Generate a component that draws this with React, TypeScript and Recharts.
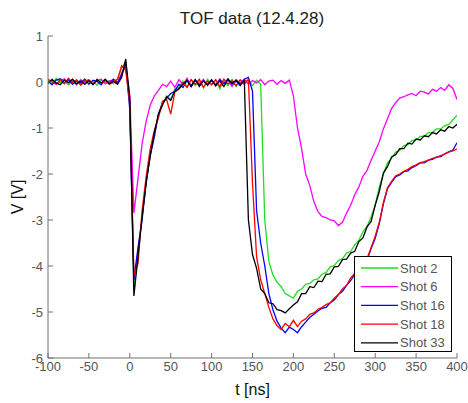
import { LineChart, Line, XAxis, YAxis, Legend } from "recharts";

const TIME = [
  -100, -95, -90, -85, -80, -75, -70, -65, -60, -55,
  -50, -45, -40, -35, -30, -25, -20, -15, -10, -5,
  0, 5, 10, 15, 20, 25, 30, 35, 40, 45,
  50, 55, 60, 65, 70, 75, 80, 85, 90, 95,
  100, 105, 110, 115, 120, 125, 130, 135, 140, 145,
  150, 155, 160, 165, 170, 175, 180, 185, 190, 195,
  200, 205, 210, 215, 220, 225, 230, 235, 240, 245,
  250, 255, 260, 265, 270, 275, 280, 285, 290, 295,
  300, 305, 310, 315, 320, 325, 330, 335, 340, 345,
  350, 355, 360, 365, 370, 375, 380, 385, 390, 395,
  400,
];

const SHOT_2 = [
  0.05, -0.04, 0.08, -0.02, 0.03, -0.06, 0.04, 0.0, -0.05, 0.06,
  -0.03, 0.02, -0.07, 0.05, -0.02, 0.03, -0.04, 0.08, 0.3, 0.45,
  -0.5, -4.4, -3.7, -2.9, -2.2, -1.55, -1.1, -0.72, -0.5, -0.3,
  -0.38, -0.15, -0.12, 0.02, -0.1, 0.05, -0.08, 0.03, -0.12, 0.06,
  -0.05, 0.04, -0.15, 0.02, -0.08, 0.06, -0.1, 0.04, -0.06, 0.05,
  -0.08, 0.04, -0.05, -3.0, -3.9, -4.2, -4.35, -4.45, -4.6, -4.65,
  -4.7, -4.55, -4.5, -4.4, -4.38, -4.3, -4.28, -4.18, -4.14, -4.02,
  -3.99, -3.88, -3.84, -3.72, -3.68, -3.54, -3.44, -3.26, -3.14, -2.93,
  -2.67, -2.28, -2.0, -1.76, -1.66, -1.52, -1.49, -1.38, -1.36, -1.27,
  -1.26, -1.18, -1.18, -1.1, -1.1, -1.02, -1.02, -0.95, -0.92, -0.82,
  -0.72,
];

const SHOT_6 = [
  -0.02, 0.06, -0.05, 0.03, 0.07, -0.03, 0.02, -0.06, 0.05, -0.02,
  0.04, -0.05, 0.03, 0.06, -0.04, 0.02, 0.05, -0.03, 0.2, 0.35,
  -0.3, -2.85, -2.1, -1.35, -0.85, -0.5, -0.3, -0.18, -0.05, -0.1,
  0.02, -0.12, 0.05, -0.05, 0.08, -0.1, 0.03, -0.04, 0.06, -0.08,
  0.03, -0.06, 0.07, -0.03, 0.04, -0.1, 0.05, -0.02, 0.06, -0.05,
  0.03, -0.02, 0.05, -0.06, 0.02, 0.04, -0.05, 0.03, -0.03, 0.04,
  -0.3, -1.0, -1.45, -2.0, -2.25, -2.6, -2.82, -2.92, -2.95, -3.0,
  -3.02, -3.12, -3.05, -2.85, -2.68, -2.45, -2.28, -2.05, -1.92, -1.7,
  -1.5, -1.3, -1.02, -0.8, -0.58, -0.45, -0.35, -0.32, -0.28, -0.25,
  -0.3, -0.2, -0.22, -0.26, -0.16, -0.2, -0.12, -0.18, -0.06, -0.14,
  -0.38,
];

const SHOT_16 = [
  0.02, -0.06, 0.04, 0.07, -0.03, 0.05, -0.05, 0.03, -0.02, 0.06,
  -0.05, 0.04, 0.01, -0.06, 0.05, -0.03, 0.06, -0.02, 0.15, 0.4,
  -0.6, -4.3, -3.6, -3.0, -2.15, -1.6, -1.2, -0.7, -0.45, -0.35,
  -0.25, -0.2, -0.05, -0.12, 0.04, -0.08, 0.05, -0.1, 0.03, -0.06,
  0.04, -0.09, 0.05, -0.04, 0.07, -0.05, 0.02, -0.08, 0.06, 0.1,
  -0.2, -2.8, -3.5, -4.0, -4.6, -4.95, -5.2, -5.35, -5.45, -5.33,
  -5.38, -5.45, -5.32, -5.22, -5.12, -5.05, -4.98, -4.92, -4.9, -4.8,
  -4.74, -4.62, -4.55, -4.42, -4.32, -4.18, -4.08, -3.97, -3.88, -3.62,
  -3.4, -3.08, -2.65, -2.32, -2.18, -2.06, -2.02, -1.95, -1.93, -1.86,
  -1.82, -1.76, -1.76, -1.7, -1.68, -1.63, -1.62, -1.56, -1.52, -1.48,
  -1.32,
];

const SHOT_18 = [
  0.06, 0.0, -0.05, 0.04, -0.04, 0.08, -0.02, 0.05, -0.07, 0.02,
  0.05, -0.04, 0.06, -0.03, 0.03, -0.05, 0.02, 0.05, 0.35, 0.25,
  -0.45, -4.2, -3.95, -2.8, -2.05, -1.45, -1.05, -0.78, -0.42, -0.38,
  -0.7, -0.22, -0.15, -0.02, -0.12, 0.05, -0.05, 0.06, -0.12, 0.02,
  -0.06, 0.05, -0.1, 0.06, -0.04, 0.03, -0.08, 0.05, -0.03, 0.06,
  -2.2, -3.8, -4.3, -4.6, -4.9, -5.15, -5.3, -5.38, -5.25, -5.32,
  -5.18, -5.32, -5.2, -5.15, -5.05, -5.02, -4.94, -4.9, -4.84, -4.8,
  -4.7, -4.62, -4.5, -4.42, -4.26, -4.16, -4.05, -3.96, -3.84, -3.6,
  -3.35, -3.05, -2.62, -2.3, -2.16, -2.04, -2.0, -1.94, -1.9, -1.84,
  -1.8, -1.75, -1.73, -1.7, -1.66, -1.64, -1.6, -1.57, -1.52, -1.5,
  -1.45,
];

const SHOT_33 = [
  -0.03, 0.05, -0.02, -0.06, 0.04, -0.01, 0.06, -0.04, 0.02, -0.05,
  0.03, -0.06, 0.05, -0.02, 0.06, -0.04, 0.01, -0.05, 0.1, 0.5,
  -0.35, -4.65, -3.8, -2.95, -2.2, -1.6, -1.1, -0.7, -0.5, -0.32,
  -0.4, -0.2, -0.15, -0.05, 0.03, -0.1, 0.05, -0.08, 0.02, -0.06,
  0.05, -0.07, 0.02, -0.1, 0.06, -0.03, 0.04, -0.06, 0.03, -3.0,
  -3.75, -4.05, -4.5, -4.6, -4.8, -4.82, -4.95, -4.97, -5.02, -4.93,
  -4.85, -4.78, -4.6, -4.6, -4.45, -4.47, -4.33, -4.34, -4.18, -4.17,
  -4.02, -4.01, -3.86, -3.85, -3.72, -3.68, -3.47, -3.39, -3.15, -3.03,
  -2.68, -2.38, -1.98, -1.84, -1.63, -1.58, -1.45, -1.45, -1.33, -1.35,
  -1.24, -1.26, -1.17, -1.19, -1.1, -1.13, -1.04, -1.07, -0.97, -1.0,
  -0.92,
];

const X_TICKS = [-100, -50, 0, 50, 100, 150, 200, 250, 300, 350, 400];
const Y_TICKS = [-6, -5, -4, -3, -2, -1, 0, 1];

const SERIES = [
  { key: "s2", name: "Shot 2", values: SHOT_2, color: "#22dd22" },
  { key: "s6", name: "Shot 6", values: SHOT_6, color: "#ff00ff" },
  { key: "s16", name: "Shot 16", values: SHOT_16, color: "#0000ff" },
  { key: "s18", name: "Shot 18", values: SHOT_18, color: "#ff0000" },
  { key: "s33", name: "Shot 33", values: SHOT_33, color: "#000000" },
];

const data = TIME.map((t, i) => {
  const row: Record<string, number> = { t };
  SERIES.forEach((s) => {
    row[s.key] = s.values[i];
  });
  return row;
});

const FONT = "'Liberation Sans', Arial, sans-serif";
const AXIS = "#707070";
const tickStyle = { fill: "#555", fontSize: 13, fontFamily: FONT };

const order = (name: string) => SERIES.findIndex((s) => s.name === name);

// eslint-disable-next-line @typescript-eslint/no-explicit-any
function LegendBox({ payload }: any) {
  const items = [...(payload || [])].sort(
    (a: { value: string }, b: { value: string }) => order(a.value) - order(b.value)
  );
  return (
    <svg width={98} height={96} style={{ display: "block" }}>
      <rect x={0.5} y={0.5} width={97} height={95} fill="#fff" stroke="#000" />
      {items.map((p: { value: string; color: string }, i: number) => {
        const y = 12 + i * 18.7;
        return (
          <g key={p.value}>
            <line x1={7} x2={44} y1={y} y2={y} stroke={p.color} strokeWidth={1.3} />
            <text x={46} y={y} dy="0.35em" fontSize={13} fill="#555" fontFamily={FONT}>
              {p.value}
            </text>
          </g>
        );
      })}
    </svg>
  );
}

export default function App() {
  return (
    <div style={{ position: "absolute", left: 0, top: 0, width: 468, height: 403, background: "#fff" }}>
      <div
        style={{
          position: "absolute",
          left: 0,
          width: 504,
          top: 9,
          textAlign: "center",
          fontFamily: FONT,
          fontSize: 17,
          color: "#222",
        }}
      >
        TOF data (12.4.28)
      </div>
      <LineChart width={468} height={403} data={data} margin={{ top: 36, right: 11, bottom: 0, left: 0 }}>
        <XAxis
          dataKey="t"
          type="number"
          domain={[-100, 400]}
          ticks={X_TICKS}
          interval={0}
          height={45}
          stroke={AXIS}
          tick={tickStyle}
          tickSize={-5}
          tickMargin={9}
          allowDataOverflow
          label={{ value: "t [ns]", position: "insideBottom", offset: 8, style: { fill: "#111", fontSize: 16, fontFamily: FONT } }}
        />
        <XAxis
          xAxisId="top"
          orientation="top"
          type="number"
          domain={[-100, 400]}
          ticks={X_TICKS}
          height={0}
          stroke={AXIS}
          tick={false}
          tickSize={-5}
          allowDataOverflow
        />
        <YAxis
          type="number"
          domain={[-6, 1]}
          ticks={Y_TICKS}
          interval={0}
          width={48}
          stroke={AXIS}
          tick={tickStyle}
          tickSize={-5}
          tickMargin={10}
          allowDataOverflow
          label={{ value: "V [V]", angle: -90, position: "insideLeft", offset: 17, style: { fill: "#111", fontSize: 16, fontFamily: FONT, textAnchor: "middle" } }}
        />
        <YAxis
          yAxisId="right"
          orientation="right"
          type="number"
          domain={[-6, 1]}
          ticks={Y_TICKS}
          width={0}
          stroke={AXIS}
          tick={false}
          tickSize={-5}
          allowDataOverflow
        />
        <Legend
          layout="vertical"
          align="center"
          verticalAlign="middle"
          content={<LegendBox />}
          wrapperStyle={{ position: "absolute", left: 354, top: 256, width: 98, height: 96 }}
        />
        {SERIES.map((s) => (
          <Line
            key={s.key}
            dataKey={s.key}
            name={s.name}
            stroke={s.color}
            strokeWidth={1.3}
            dot={false}
            type="linear"
            isAnimationActive={false}
          />
        ))}
      </LineChart>
    </div>
  );
}
